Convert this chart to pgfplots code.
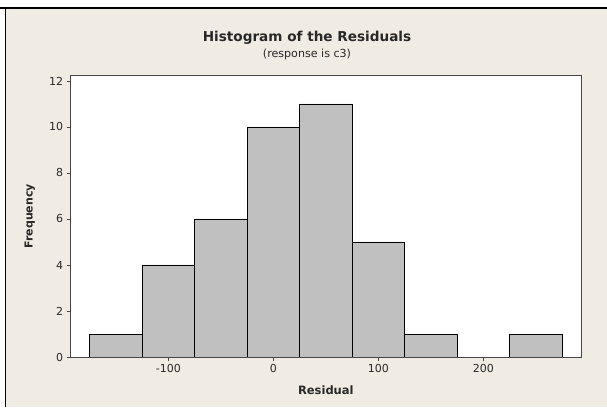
\documentclass[border=0pt]{standalone}
\usepackage{pgfplots}
\pgfplotsset{compat=1.18}
\usepackage{fontspec}
\setmainfont{DejaVu Sans}
\definecolor{panel}{RGB}{241,236,227}
\definecolor{barfill}{RGB}{192,192,192}
\definecolor{framegray}{RGB}{70,70,70}
\definecolor{textgray}{RGB}{40,40,40}
\begin{document}
\begin{tikzpicture}
\useasboundingbox (0pt,0pt) rectangle (607pt,410pt);
\fill[white] (0pt,0pt) rectangle (607pt,410pt);
\fill[panel] (5pt,3pt) rectangle (607pt,402pt);
\draw[black, line width=1.2pt] (0pt,402pt) -- (607pt,402pt);
\draw[black, line width=1.2pt] (5.5pt,402pt) -- (5.5pt,3pt);
\begin{axis}[
  at={(70.7pt,53pt)}, anchor=south west, scale only axis,
  width=510.3pt, height=281.3pt,
  xmin=-193, xmax=293, ymin=0, ymax=12.23,
  axis background/.style={fill=white},
  axis on top,
  axis line style={framegray, line width=1pt},
  xtick={-100,0,100,200}, ytick={0,2,...,12},
  tick align=outside, major tick length=4pt,
  xtick pos=lower, ytick pos=left,
  tick style={framegray, line width=0.8pt},
  ticklabel style={font=\fontsize{11}{13}\selectfont, text=textgray},
  /pgf/number format/assume math mode=true,
  xlabel={\bfseries Residual}, ylabel={\bfseries Frequency},
  every axis x label/.style={at={(axis description cs:0.5,-0.1195)}, anchor=center,
    font=\fontsize{11.5}{13}\selectfont, text=textgray},
  every axis y label/.style={at={(axis description cs:-0.08,0.5)}, rotate=90, anchor=center,
    font=\fontsize{11}{13}\selectfont, text=textgray},
]
% residual counts per 50-wide bin
\addplot[ybar, bar width=50, bar shift=0pt, fill=barfill, draw=black, line width=0.8pt]
  coordinates {(-150,1) (-100,4) (-50,6) (0,10) (50,11) (100,5) (150,1) (200,0) (250,1)};
\end{axis}
\node[font=\bfseries\fontsize{13.6}{15}\selectfont, text=textgray] at (307pt,372pt) {Histogram of the Residuals};
\node[font=\fontsize{11.1}{13}\selectfont, text=textgray] at (307pt,356pt) {(response is c3)};
\end{tikzpicture}
\end{document}
